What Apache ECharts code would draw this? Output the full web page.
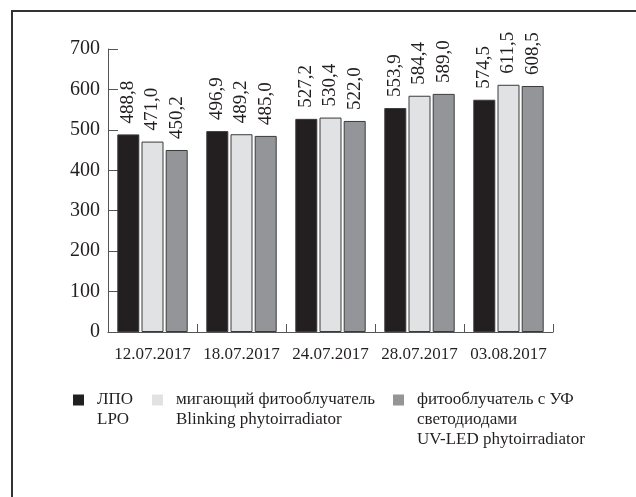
<!DOCTYPE html>
<html>
<head>
<meta charset="utf-8">
<script src="https://cdn.jsdelivr.net/npm/echarts@6/dist/echarts.min.js"></script>
<style>
html,body{margin:0;padding:0;background:#fff;}
#chart{width:636px;height:497px;}
</style>
</head>
<body>
<div id="chart"></div>
<script>
var categories = ['12.07.2017', '18.07.2017', '24.07.2017', '28.07.2017', '03.08.2017'];
var seriesNames = ['ЛПО\nLPO', 'мигающий фитооблучатель\nBlinking phytoirradiator', 'фитооблучатель с УФ\nсветодиодами\nUV-LED phytoirradiator'];
var lpo = [488.8, 496.9, 527.2, 553.9, 574.5];
var blinking = [471.0, 489.2, 530.4, 584.4, 611.5];
var uvled = [450.2, 485.0, 522.0, 589.0, 608.5];
var yTicks = {min: 0, max: 700, interval: 100};

var FONT = '"Liberation Serif", "Times New Roman", serif';
var colors = ['#231f20', '#e1e2e4', '#939598'];
var dataSets = [lpo, blinking, uvled];

var chart = echarts.init(document.getElementById('chart'), null, {renderer: 'canvas'});

function fmt(v) { return v.toFixed(1).replace('.', ','); }

var series = dataSets.map(function (d, i) {
  return {
    name: seriesNames[i],
    type: 'bar',
    data: d,
    barWidth: 22,
    barGap: '10%',
    itemStyle: {color: colors[i], borderColor: '#3a3a3a', borderWidth: 1},
    label: {
      show: true,
      position: 'top',
      rotate: 90,
      align: 'left',
      verticalAlign: 'middle',
      distance: 11,
      fontFamily: FONT,
      fontSize: 19,
      color: '#231f20',
      formatter: function (p) { return fmt(p.value); }
    }
  };
});

var legendLefts = [73, 152, 393];
var LH = 20;
var legends = seriesNames.map(function (n, i) {
  var lines = n.split('\n').length;
  var H = (2 * lines - 1) * LH;
  var prefix = new Array(lines).join('\n');
  return {
    left: legendLefts[i],
    top: 400 - H / 2,
    padding: 0,
    itemWidth: 11,
    itemHeight: 11,
    itemGap: 0,
    data: [{name: n, icon: 'rect', itemStyle: {borderWidth: 0}}],
    selectedMode: false,
    formatter: function (name) { return prefix + name; },
    textStyle: {
      fontFamily: FONT,
      fontSize: 17,
      color: '#231f20',
      lineHeight: LH,
      padding: [0, 0, 0, 8]
    }
  };
});

chart.setOption({
  animation: false,
  backgroundColor: '#fff',
  legend: legends,
  grid: {left: 108, top: 49, width: 445, height: 283, containLabel: false},
  xAxis: {
    type: 'category',
    data: categories,
    axisLine: {lineStyle: {color: '#555', width: 1}},
    axisTick: {show: true, inside: true, length: 8, lineStyle: {color: '#555'}},
    axisLabel: {interval: 0, fontFamily: FONT, fontSize: 17, color: '#231f20', margin: 14}
  },
  yAxis: {
    type: 'value',
    min: yTicks.min,
    max: yTicks.max,
    interval: yTicks.interval,
    splitLine: {show: false},
    axisLine: {show: true, lineStyle: {color: '#555', width: 1}},
    axisTick: {show: true, inside: true, length: 10, lineStyle: {color: '#555'}},
    axisLabel: {fontFamily: FONT, fontSize: 20, color: '#231f20', margin: 8}
  },
  graphic: [{
    type: 'polyline',
    shape: {points: [[12, 497], [12, 11], [636, 11]]},
    style: {stroke: '#333', lineWidth: 2, fill: null},
    silent: true
  }],
  series: series
});
</script>
</body>
</html>
